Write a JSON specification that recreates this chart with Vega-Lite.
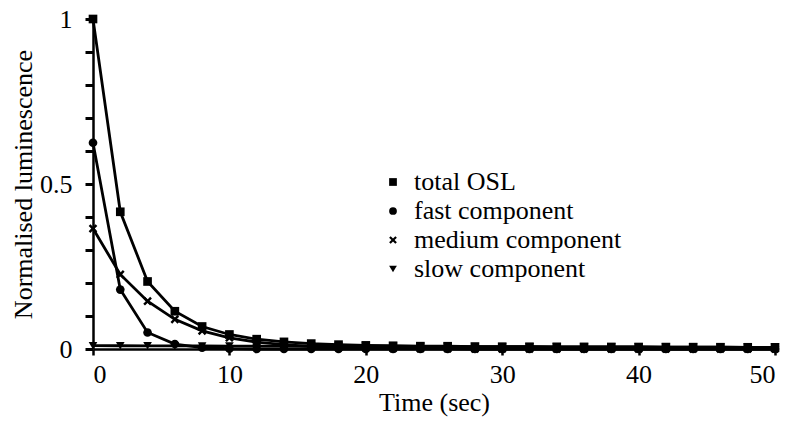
{
  "$schema": "https://vega.github.io/schema/vega-lite/v6.json",
  "width": 682,
  "height": 330,
  "autosize": "none",
  "padding": {"left": 93, "top": 19, "right": 15, "bottom": 76},
  "background": "white",
  "config": {
    "view": {"stroke": null},
    "axis": {
      "grid": false,
      "ticks": true,
      "domainColor": "black",
      "domainWidth": 2.5,
      "tickColor": "black",
      "tickWidth": 2.5,
      "labelFont": "Liberation Serif",
      "labelFontSize": 26,
      "labelColor": "black",
      "titleFont": "Liberation Serif",
      "titleFontSize": 26,
      "titleFontWeight": "normal",
      "titleColor": "black"
    },
    "legend": {
      "labelFont": "Liberation Serif",
      "labelFontSize": 26,
      "labelColor": "black",
      "labelLimit": 400
    }
  },
  "data": {
    "values": [
      {"t": 0, "total OSL": 1.0, "fast component": 0.625, "medium component": 0.365, "slow component": 0.0100},
      {"t": 2, "total OSL": 0.4158, "fast component": 0.180, "medium component": 0.226, "slow component": 0.0098},
      {"t": 4, "total OSL": 0.2046, "fast component": 0.050, "medium component": 0.145, "slow component": 0.0096},
      {"t": 6, "total OSL": 0.1144, "fast component": 0.015, "medium component": 0.090, "slow component": 0.0094},
      {"t": 8, "total OSL": 0.0682, "fast component": 0.004, "medium component": 0.055, "slow component": 0.0092},
      {"t": 10, "total OSL": 0.044, "fast component": 0.001, "medium component": 0.034, "slow component": 0.0090},
      {"t": 12, "total OSL": 0.0298, "fast component": 0.0, "medium component": 0.021, "slow component": 0.0088},
      {"t": 14, "total OSL": 0.0216, "fast component": 0.0, "medium component": 0.013, "slow component": 0.0086},
      {"t": 16, "total OSL": 0.0164, "fast component": 0.0, "medium component": 0.008, "slow component": 0.0084},
      {"t": 18, "total OSL": 0.0132, "fast component": 0.0, "medium component": 0.005, "slow component": 0.0082},
      {"t": 20, "total OSL": 0.011, "fast component": 0.0, "medium component": 0.003, "slow component": 0.0080},
      {"t": 22, "total OSL": 0.0098, "fast component": 0.0, "medium component": 0.002, "slow component": 0.0078},
      {"t": 24, "total OSL": 0.0086, "fast component": 0.0, "medium component": 0.001, "slow component": 0.0076},
      {"t": 26, "total OSL": 0.0084, "fast component": 0.0, "medium component": 0.001, "slow component": 0.0074},
      {"t": 28, "total OSL": 0.0072, "fast component": 0.0, "medium component": 0.0, "slow component": 0.0072},
      {"t": 30, "total OSL": 0.0070, "fast component": 0.0, "medium component": 0.0, "slow component": 0.0070},
      {"t": 32, "total OSL": 0.0068, "fast component": 0.0, "medium component": 0.0, "slow component": 0.0068},
      {"t": 34, "total OSL": 0.0066, "fast component": 0.0, "medium component": 0.0, "slow component": 0.0066},
      {"t": 36, "total OSL": 0.0064, "fast component": 0.0, "medium component": 0.0, "slow component": 0.0064},
      {"t": 38, "total OSL": 0.0062, "fast component": 0.0, "medium component": 0.0, "slow component": 0.0062},
      {"t": 40, "total OSL": 0.0060, "fast component": 0.0, "medium component": 0.0, "slow component": 0.0060},
      {"t": 42, "total OSL": 0.0058, "fast component": 0.0, "medium component": 0.0, "slow component": 0.0058},
      {"t": 44, "total OSL": 0.0056, "fast component": 0.0, "medium component": 0.0, "slow component": 0.0056},
      {"t": 46, "total OSL": 0.0054, "fast component": 0.0, "medium component": 0.0, "slow component": 0.0054},
      {"t": 48, "total OSL": 0.0052, "fast component": 0.0, "medium component": 0.0, "slow component": 0.0052},
      {"t": 50, "total OSL": 0.0050, "fast component": 0.0, "medium component": 0.0, "slow component": 0.0050}
    ]
  },
  "transform": [
    {"fold": ["total OSL", "fast component", "medium component", "slow component"], "as": ["series", "v"]}
  ],
  "encoding": {
    "x": {
      "field": "t",
      "type": "quantitative",
      "scale": {"domain": [0, 50], "nice": false},
      "axis": {
        "values": [0, 10, 20, 30, 40, 50],
        "tickSize": 6,
        "labelPadding": 6,
        "title": "Time (sec)",
        "titlePadding": 2
      }
    },
    "y": {
      "field": "v",
      "type": "quantitative",
      "scale": {"domain": [0, 1], "nice": false},
      "axis": {
        "values": [0, 0.1, 0.2, 0.3, 0.4, 0.5, 0.6, 0.7, 0.8, 0.9, 1],
        "labelExpr": "datum.value == 0 ? '0' : datum.value == 0.5 ? '0.5' : datum.value == 1 ? '1' : ''",
        "tickSize": 8,
        "tickWidth": 3,
        "labelPadding": 13,
        "title": "Normalised luminescence",
        "titlePadding": 3
      }
    }
  },
  "layer": [
    {
      "mark": {"type": "line", "color": "black", "strokeWidth": 2.8},
      "encoding": {"detail": {"field": "series"}}
    },
    {
      "mark": {"type": "point", "filled": true, "color": "black", "opacity": 1, "size": 75},
      "encoding": {
        "shape": {
          "field": "series",
          "type": "nominal",
          "scale": {
            "domain": ["total OSL", "fast component", "medium component", "slow component"],
            "range": ["square", "circle", "M-1,-0.6L-0.6,-1L0,-0.4L0.6,-1L1,-0.6L0.4,0L1,0.6L0.6,1L0,0.4L-0.6,1L-1,0.6L-0.4,0Z", "triangle-down"]
          },
          "legend": {
            "title": null,
            "orient": "none",
            "legendX": 287,
            "legendY": 150,
            "symbolFillColor": "black",
            "symbolStrokeColor": "black",
            "symbolSize": 60,
            "rowPadding": 3,
            "labelOffset": 8
          }
        }
      }
    }
  ]
}
